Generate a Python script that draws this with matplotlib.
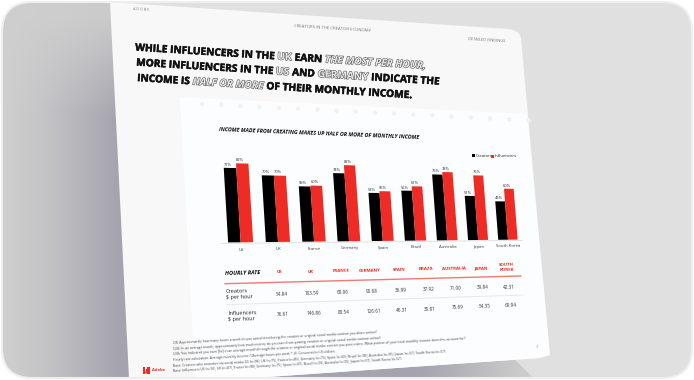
import numpy as np
import matplotlib
matplotlib.use('Agg')
import matplotlib.pyplot as plt
from matplotlib.path import Path
from matplotlib.patches import PathPatch, FancyBboxPatch, Polygon, Circle
from matplotlib.transforms import Transform
import matplotlib.patheffects as pe

plt.rcParams['font.family'] = ['Open Sans', 'DejaVu Sans']

countries = ['US', 'UK', 'France', 'Germany', 'Spain', 'Brazil', 'Australia', 'Japan', 'South Korea']
creators = [77, 70, 59, 74, 53, 56, 75, 51, 45]
influencers = [82, 70, 60, 83, 55, 61, 78, 75, 60]

table_heads = ['US', 'UK', 'FRANCE', 'GERMANY', 'SPAIN', 'BRAZIL', 'AUSTRALIA', 'JAPAN', 'SOUTH\nKOREA']
creators_rate = ['54.84', '103.59', '68.06', '90.68', '36.99', '37.92', '71.00', '39.84', '42.31']
influencers_rate = ['76.61', '146.86', '83.54', '126.61', '46.31', '35.81', '75.69', '54.35', '69.94']

title_lines = [
    [('WHILE INFLUENCERS IN THE', 0), ('UK', 1), ('EARN', 0), ('THE MOST PER HOUR,', 2)],
    [('MORE INFLUENCERS IN THE', 0), ('US', 1), ('AND', 0), ('GERMANY', 1), ('INDICATE THE', 0)],
    [('INCOME IS', 0), ('HALF OR MORE', 2), ('OF THEIR MONTHLY INCOME.', 0)],
]

notes = [
    'Q8: Approximately how many hours a week do you spend developing the creative or original social media content you share online?',
    'Q46: In an average month, approximately how much money do you earn from posting creative or original social media content online?',
    'Q46: You indicated you earn [$x] in an average month through the creative or original social media content you post online. What portion of your total monthly income does this account for?',
    'Hourly rate calculation: Average monthly income / (Average hours per week * 4). Converted to US dollars.',
    'Base: Creators who monetize via social media US (n=98), UK (n=75), France (n=85), Germany (n=75), Spain (n=89), Brazil (n=98), Australia (n=95), Japan (n=57), South Korea (n=57)',
    'Base: Influencers US (n=76), UK (n=87), France (n=98), Germany (n=75), Spain (n=87), Brazil (n=99), Australia (n=95), Japan (n=57), South Korea (n=57)',
]


class Homography(Transform):
    input_dims = 2
    output_dims = 2
    is_separable = False
    has_inverse = False

    def __init__(self, src, dst):
        super().__init__()
        rows = []
        rhs = []
        for (u, v), (x, y) in zip(src, dst):
            rows.append([u, v, 1, 0, 0, 0, -u * x, -v * x])
            rows.append([0, 0, 0, u, v, 1, -u * y, -v * y])
            rhs += [x, y]
        self.m = np.append(np.linalg.solve(np.array(rows, float), np.array(rhs, float)), 1).reshape(3, 3)

    def transform_non_affine(self, values):
        values = np.asarray(values, float)
        p = np.column_stack([values, np.ones(len(values))]) @ self.m.T
        return p[:, :2] / p[:, 2:]


fig = plt.figure(figsize=(6.94, 3.80), dpi=100, facecolor='white')
ax = fig.add_axes([0, 0, 1, 1])
ax.set_xlim(0, 694)
ax.set_ylim(380, 0)
ax.axis('off')

# backdrop
xx, yy = np.meshgrid(np.arange(694), np.arange(380))
light = np.array([0xcf, 0xcf, 0xcf]) / 255
dark = np.array([0xa5, 0xa3, 0xad]) / 255
flat = np.array([0xe0, 0xe0, 0xe0]) / 255
t = np.clip(xx / 118, 0, 1) ** 1.3 * np.clip((yy - 5) / 110, 0.1, 1)
t = np.where(xx > 130, np.clip((530 - xx) / 110, 0, 1), t)
bg = light + (dark - light) * t[..., None]
bg[(xx > 130) & ((yy < 200) | (xx > 517 + (yy - 362)))] = flat
frame = FancyBboxPatch((32, 32), 630, 316, boxstyle='round,pad=30,rounding_size=30',
                       fc='none', ec='#eeeeee', lw=1.5, transform=ax.transData, zorder=3)
ax.add_patch(frame)
im = ax.imshow(bg, extent=(0, 694, 380, 0), aspect='auto', zorder=0)
im.set_clip_path(frame)

# page with rounded right corners
page_verts = [(110, 2), (508, 29), (519, 30), (521, 38), (549, 345), (550, 355), (540, 358),
              (253, 378), (129, 378), (110, 2)]
page_codes = [Path.MOVETO, Path.LINETO, Path.CURVE3, Path.CURVE3, Path.LINETO, Path.CURVE3, Path.CURVE3,
              Path.LINETO, Path.LINETO, Path.CLOSEPOLY]
ax.add_patch(PathPatch(Path(page_verts, page_codes), fc='#f8f8f8', ec='none', zorder=1))
ax.add_patch(Polygon([(180, 97), (527, 114), (549, 345), (550, 355), (540, 358), (253, 378), (195, 378)],
                     fc='#fcfdfe', ec='none', zorder=1.5))
for cx in np.arange(202, 530, 19.2):
    ax.add_patch(Circle((cx, 104 + (cx - 202) * 0.05), 2.2, fc='#f1f1f1', ec='none', zorder=1.6))

ax.text(133, 10, 'A D O B E', fontsize=2.6, color='#777777', va='center', rotation=-3.6, zorder=4)
ax.text(332, 28, 'CREATORS IN THE CREATOR ECONOMY', fontsize=3.1, color='#777777', ha='center', va='center',
        rotation=-3.6, zorder=4)
ax.text(487, 40, 'DETAILED FINDINGS', fontsize=2.9, color='#777777', ha='center', va='center',
        rotation=-3.6, zorder=4)

# headline, word groups set one after the other along the slanted line
renderer = fig.canvas.get_renderer()
slope = np.radians(3.6)
for (x0, y0), line in zip([(135, 50.5), (136, 65.5), (137, 81)], title_lines):
    x, y = x0, y0
    for words, kind in line:
        t = ax.text(x, y, words, fontsize=7.3, fontweight='bold', ha='left', va='baseline',
                    rotation_mode='anchor', zorder=4,
                    style='italic' if kind == 2 else 'normal',
                    color='#e8e8e8' if kind else '#111111')
        if kind:
            t.set_path_effects([pe.Stroke(linewidth=0.8, foreground='#555555'), pe.Normal()])
        else:
            t.set_path_effects([pe.Stroke(linewidth=0.35, foreground='#111111'), pe.Normal()])
        w = t.get_window_extent(renderer).width + 3.0
        t.set_rotation(-3.6)
        x += w * np.cos(slope)
        y += w * np.sin(slope)

# chart
chart = Homography([(0, 0), (0, 82), (8, 0), (8, 60)],
                   [(240.7, 242.3), (236, 163.3), (508, 239.7), (504, 188.7)]) + ax.transData
ax.text(219, 134, 'INCOME MADE FROM CREATING MAKES UP HALF OR MORE OF MONTHLY INCOME', fontsize=3.9,
        fontweight='bold', style='italic', color='#111111', va='center', rotation=-2.3, zorder=4)
xs = np.arange(len(countries))
w = 0.33
ax.plot([-0.5, 8.5], [-1, -1], color='#dddddd', lw=0.6, transform=chart, zorder=3)
ax.bar(xs - w / 2, creators, w, color='black', transform=chart, zorder=4)
ax.bar(xs + w / 2, influencers, w, color='#ee2b24', transform=chart, zorder=4)
ax.set_xlim(0, 694)
ax.set_ylim(380, 0)
for i in xs:
    ax.text(i - w / 2 - 0.05, creators[i] + 3.5, f'{creators[i]}%', fontsize=2.9, color='#222222', ha='center', va='center',
            transform=chart, zorder=5)
    ax.text(i + w / 2 - 0.05, influencers[i] + 3.5, f'{influencers[i]}%', fontsize=2.9, color='#222222', ha='center', va='center',
            transform=chart, zorder=5)
    ax.text(i, -7.5, countries[i], fontsize=3.1, color='#333333', ha='center', va='center', rotation=0.6,
            transform=chart, zorder=5)

ax.add_patch(Polygon([(472, 154), (475, 154), (475, 157), (472, 157)], fc='black', ec='none', zorder=5))
ax.text(475.5, 155.6, 'Creators', fontsize=3.1, color='#222222', va='center', zorder=5)
ax.add_patch(Polygon([(491, 154.5), (494, 154.5), (494, 157.5), (491, 157.5)], fc='#ee2b24', ec='none', zorder=5))
ax.text(494.5, 156.2, 'Influencers', fontsize=3.1, color='#222222', va='center', zorder=5)

# table
table = Homography([(0, 0), (8, 0), (0, 1), (8, 1)],
                   [(279.7, 272.3), (506.7, 267.3), (282.7, 314.7), (510.3, 305.7)]) + ax.transData
ax.text(225, 273, 'HOURLY RATE', fontsize=4.1, fontweight='bold', style='italic', color='#111111', va='center',
        rotation=1.4, zorder=5)
ax.plot([225, 520.7], [283.7, 276], color='#f07a74', lw=1.0, zorder=5)
ax.plot([226.5, 523], [304.7, 295], color='#e6e8ea', lw=0.7, zorder=5)
ax.text(226, 294.5, 'Creators\n$ per hour', fontsize=4.0, color='#222222', va='center', rotation=1.6, linespacing=1.25, zorder=5)
ax.text(228, 316, 'Influencers\n$ per hour', fontsize=4.0, color='#222222', va='center', rotation=1.6, linespacing=1.25, zorder=5)
for i in xs:
    ax.text(i, 0, table_heads[i], fontsize=3.2, fontweight='bold', color='#ee2b24', ha='center', va='center',
            rotation=1.4, linespacing=1.5, transform=table, zorder=5)
    ax.text(i, 0.51, creators_rate[i], fontsize=3.3, color='#333333', ha='center', va='center', rotation=1.6,
            transform=table, zorder=5)
    ax.text(i, 1, influencers_rate[i], fontsize=3.3, color='#333333', ha='center', va='center', rotation=1.6,
            transform=table, zorder=5)

# footnotes
for y, note in zip([343.5, 349.5, 354.5, 360, 366, 371], notes):
    ax.text(172.5, y, note, fontsize=2.45, color='#444444', va='center', rotation=3.0, rotation_mode='anchor', zorder=5)
ax.text(538, 347, '31', fontsize=2.4, color='#999999', ha='center', va='center', zorder=5)

# logo
ax.add_patch(Polygon([(143, 367), (145.5, 367), (145.5, 373.5), (143, 373.5)], fc='#ee2b24', ec='none', zorder=5))
ax.add_patch(Polygon([(147.5, 367), (150, 367), (150, 373.5), (147.5, 373.5)], fc='#ee2b24', ec='none', zorder=5))
ax.add_patch(Polygon([(146, 369), (147, 369), (148, 373.5), (145, 373.5)], fc='#ee2b24', ec='none', zorder=5))
ax.text(152.5, 370, 'Adobe', fontsize=3.0, fontweight='bold', color='#ee2b24', va='center', zorder=5)

fig.savefig('out.png', dpi=100)
